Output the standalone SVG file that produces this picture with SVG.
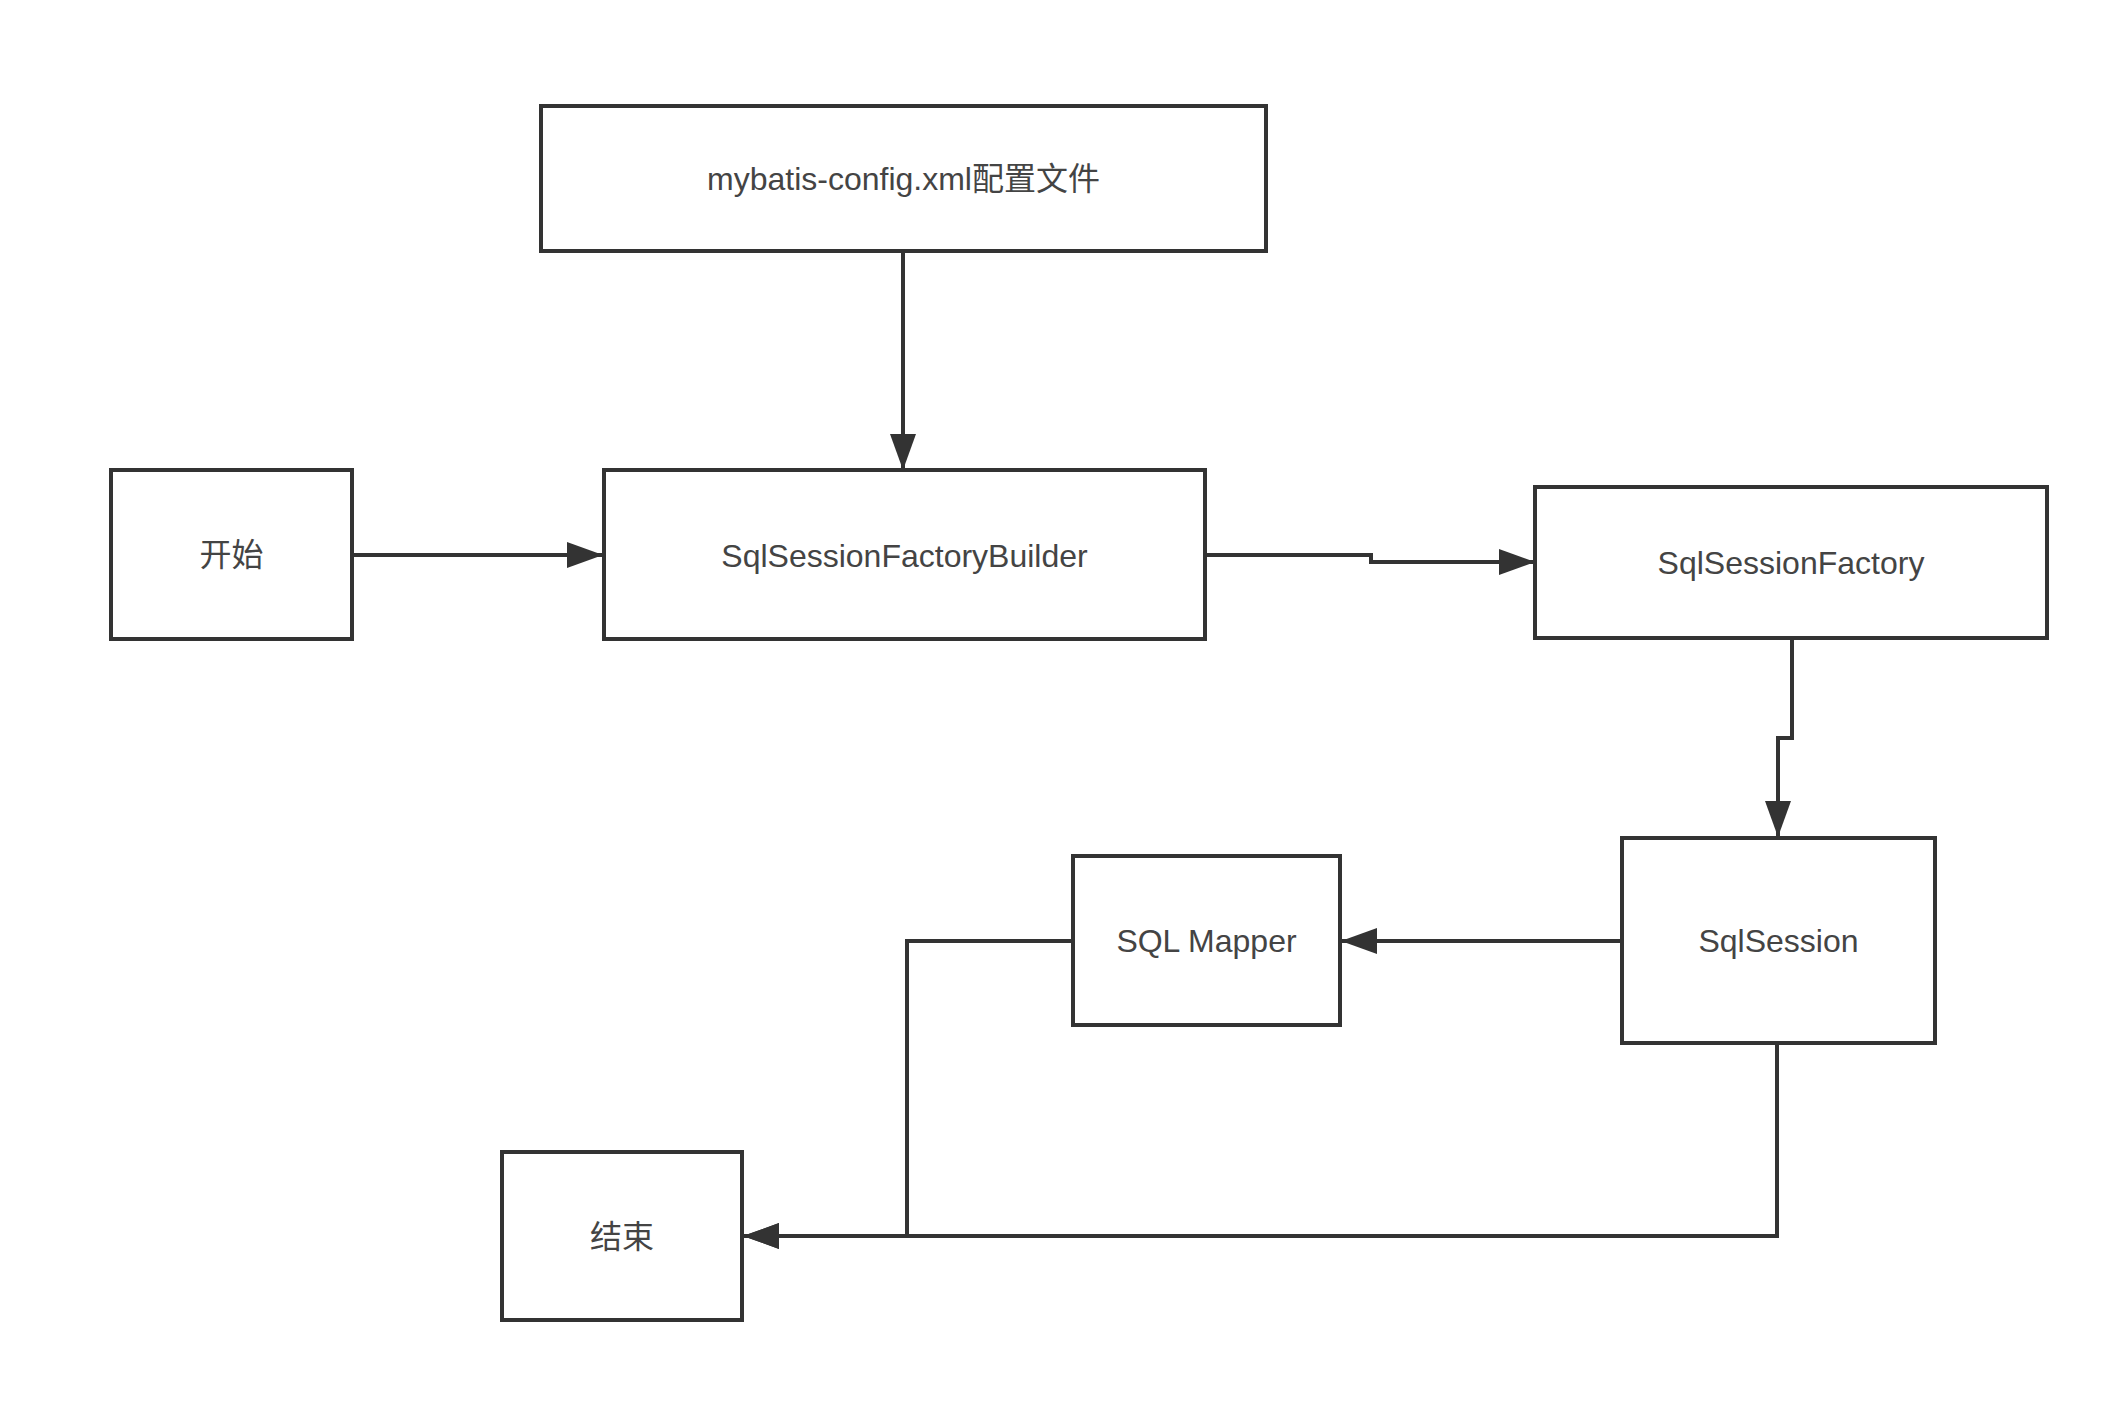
<svg xmlns="http://www.w3.org/2000/svg" width="2126" height="1405" viewBox="0 0 2126 1405">
<style>
.box{fill:#fff;stroke:#333;stroke-width:4}
.lbl{font-family:"Liberation Sans","Noto Sans CJK SC",sans-serif;font-size:32px;fill:#444;text-anchor:middle}
.edge{fill:none;stroke:#333;stroke-width:4;marker-end:url(#arr)}
</style>
<defs>
<marker id="arr" markerUnits="userSpaceOnUse" markerWidth="40" markerHeight="28" refX="36" refY="13" orient="auto">
<path d="M0,0 L36,13 L0,26 Z" fill="#333"/>
</marker>
</defs>
<rect width="2126" height="1405" fill="#fff"/>
<g id="connectors">
<path class="edge" d="M903,251 L903,470"/>
<path class="edge" d="M354,555 L603,555"/>
<path class="edge" d="M1206,555 L1371,555 L1371,562 L1535,562"/>
<path class="edge" d="M1792,639 L1792,738 L1778,738 L1778,837"/>
<path class="edge" d="M1621,941 L1341,941"/>
<path class="edge" d="M1072,941 L907,941 L907,1236 L743,1236"/>
<path class="edge" d="M1777,1044 L1777,1236 L743,1236"/>
</g>
<g id="config"><rect class="box" x="541" y="106" width="725" height="145"/><text class="lbl" x="903.5" y="190">mybatis-config.xml配置文件</text></g>
<g id="start"><rect class="box" x="111" y="470" width="241" height="169"/><text class="lbl" x="231.5" y="566">开始</text></g>
<g id="builder"><rect class="box" x="604" y="470" width="601" height="169"/><text class="lbl" x="904.5" y="567">SqlSessionFactoryBuilder</text></g>
<g id="factory"><rect class="box" x="1535" y="487" width="512" height="151"/><text class="lbl" x="1791" y="574">SqlSessionFactory</text></g>
<g id="session"><rect class="box" x="1622" y="838" width="313" height="205"/><text class="lbl" x="1778.5" y="952">SqlSession</text></g>
<g id="mapper"><rect class="box" x="1073" y="856" width="267" height="169"/><text class="lbl" x="1206.5" y="952">SQL Mapper</text></g>
<g id="end"><rect class="box" x="502" y="1152" width="240" height="168"/><text class="lbl" x="622" y="1248">结束</text></g>
</svg>
